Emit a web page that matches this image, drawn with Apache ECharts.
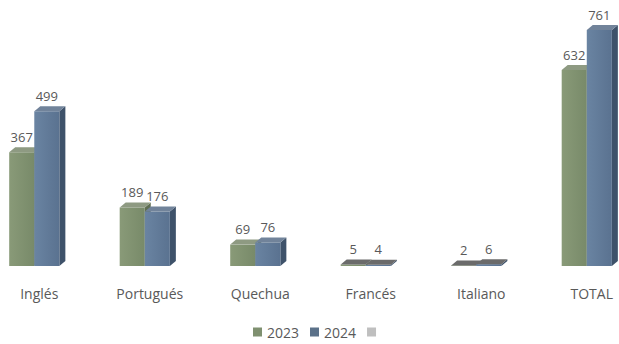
<!DOCTYPE html>
<html>
<head>
<meta charset="utf-8">
<script src="https://cdn.jsdelivr.net/npm/echarts@6/dist/echarts.min.js"></script>
<style>html,body{margin:0;padding:0;background:#fff}#c{width:619px;height:344px}</style>
</head>
<body>
<div id="c"></div>
<script>
const categories = ['Inglés', 'Portugués', 'Quechua', 'Francés', 'Italiano', 'TOTAL'];
const values2023 = [367, 189, 69, 5, 2, 632];
const values2024 = [499, 176, 76, 4, 6, 761];
const seriesNames = ['2023', '2024', ' '];

const palette = [
  { front: ['#899a78', '#788a69'], top: '#8e9a82', side: '#5f6e52', legend: '#7f9070' },
  { front: ['#6a84a2', '#5a7290'], top: '#71839a', side: '#3e526a', legend: '#5b7189' }
];

function makeRender(idx) {
  return function (params, api) {
    const cat = api.value(0);
    const val = api.value(1);
    const base = api.coord([cat, 0]);
    const top = api.coord([cat, val]);
    const band = api.size([1, 0])[0];
    const w = band * 0.227;
    const x0 = base[0] + (idx === 0 ? -band * 0.272 : -band * 0.045);
    const dx = 6, dy = 5;
    const t = top[1], b = base[1];
    const p = palette[idx];
    return {
      type: 'group',
      children: [
        { type: 'polygon', shape: { points: [[x0 + w, t], [x0 + w + dx, t - dy], [x0 + w + dx, b - dy], [x0 + w, b]] },
          style: { fill: p.side } },
        { type: 'rect', shape: { x: x0, y: t, width: w, height: Math.max(b - t, 0.5) },
          style: { fill: new echarts.graphic.LinearGradient(0, 0, 1, 0, [{ offset: 0, color: p.front[0] }, { offset: 1, color: p.front[1] }]) } },
        { type: 'polygon', shape: { points: [[x0, t], [x0 + dx, t - dy], [x0 + w + dx, t - dy], [x0 + w, t]] },
          style: { fill: val < 20 ? '#6b6b6b' : p.top } },
        { type: 'text', style: { text: String(val), x: x0 + w / 2, y: t - 9, align: 'center', verticalAlign: 'bottom',
          fill: '#595959', font: '13px "Open Sans", sans-serif' } }
      ]
    };
  };
}

const chart = echarts.init(document.getElementById('c'), null, { renderer: 'svg' });
chart.setOption({
  animation: false,
  backgroundColor: '#ffffff',
  grid: { left: -16, right: -28, top: 18, bottom: 78, containLabel: false, outerBoundsMode: 'none' },
  xAxis: {
    type: 'category', data: categories,
    axisLine: { show: false }, axisTick: { show: false },
    axisLabel: { color: '#595959', fontSize: 14, fontFamily: '"Open Sans", sans-serif', margin: 20 }
  },
  yAxis: { type: 'value', min: 0, max: 800, show: false, splitLine: { show: false } },
  legend: {
    data: seriesNames, bottom: 0, left: 248, icon: 'rect', itemWidth: 9, itemHeight: 9, itemGap: 11,
    textStyle: { color: '#595959', fontSize: 14, fontFamily: '"Open Sans", sans-serif' }
  },
  series: [
    { name: seriesNames[0], type: 'custom', renderItem: makeRender(0), itemStyle: { color: palette[0].legend },
      data: values2023.map((v, i) => [i, v]), encode: { x: 0, y: 1 } },
    { name: seriesNames[1], type: 'custom', renderItem: makeRender(1), itemStyle: { color: palette[1].legend },
      data: values2024.map((v, i) => [i, v]), encode: { x: 0, y: 1 } },
    { name: seriesNames[2], type: 'bar', data: [], itemStyle: { color: '#bfbfbf' } }
  ]
});
</script>
</body>
</html>
